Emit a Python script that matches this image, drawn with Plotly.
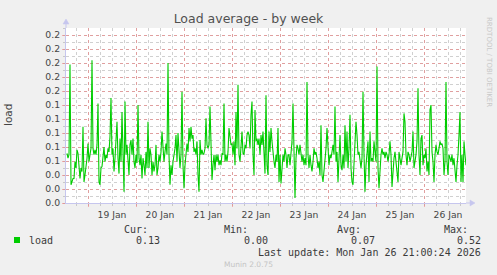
import pandas as pd
import plotly.graph_objects as go

# ---- data (30-minute averages, 18 Jan 13:30 -> 26 Jan 21:00) ----
load_part1 = [
    0.071, 0.064, 0.069, 0.198, 0.026, 0.030, 0.035, 0.035, 0.059, 0.050, 0.076,
    0.071, 0.045, 0.035, 0.050, 0.045, 0.109, 0.030, 0.040, 0.050, 0.064, 0.085,
    0.059, 0.069, 0.078, 0.204, 0.078, 0.069, 0.076, 0.069, 0.083, 0.142,
    0.030, 0.026, 0.050, 0.052, 0.069, 0.080, 0.059, 0.069, 0.064, 0.078,
    0.073, 0.095, 0.150, 0.069, 0.078, 0.045, 0.064, 0.102, 0.116, 0.064, 0.042,
    0.092, 0.059, 0.130, 0.059, 0.016, 0.145, 0.069, 0.083, 0.059, 0.040,
    0.083, 0.090, 0.069, 0.092, 0.059, 0.050, 0.069, 0.057, 0.140, 0.064,
    0.054, 0.069, 0.035, 0.064, 0.054, 0.040, 0.073, 0.050, 0.116, 0.050,
    0.078, 0.069, 0.040, 0.059, 0.045, 0.054, 0.083, 0.040, 0.050, 0.069,
    0.059, 0.073, 0.102, 0.069, 0.059, 0.073, 0.085, 0.069, 0.200, 0.069,
    0.026, 0.054, 0.040, 0.059, 0.069, 0.078, 0.097, 0.059, 0.100, 0.069,
    0.050, 0.069, 0.159, 0.054, 0.021, 0.054, 0.073, 0.085, 0.073, 0.107,
    0.088, 0.109, 0.092, 0.097, 0.073, 0.078, 0.069, 0.088, 0.040, 0.016,
]
load_part2 = [
    0.090, 0.069, 0.076, 0.069, 0.071, 0.078, 0.121, 0.083, 0.078, 0.083,
    0.138, 0.073, 0.033, 0.054, 0.069, 0.047, 0.069, 0.059, 0.069, 0.054,
    0.061, 0.054, 0.071, 0.069, 0.142, 0.059, 0.069, 0.059, 0.073, 0.107,
    0.097, 0.083, 0.085, 0.069, 0.088, 0.054, 0.130, 0.078, 0.169, 0.069,
    0.059, 0.088, 0.102, 0.071, 0.069, 0.083, 0.078, 0.097, 0.102, 0.097,
    0.078, 0.126, 0.145, 0.069, 0.040, 0.133, 0.088, 0.092, 0.083, 0.092,
    0.069, 0.097, 0.083, 0.102, 0.078, 0.042, 0.154, 0.054, 0.040, 0.102,
    0.073, 0.107, 0.088, 0.069, 0.059, 0.050, 0.069, 0.059, 0.107, 0.030,
    0.069, 0.028, 0.054, 0.069, 0.059, 0.078, 0.069, 0.050, 0.069, 0.069,
    0.054, 0.069, 0.088, 0.142, 0.069, 0.007, 0.064, 0.083, 0.078, 0.069,
    0.083, 0.069, 0.059, 0.069, 0.054, 0.064, 0.054, 0.173, 0.069, 0.050,
    0.069, 0.054, 0.045, 0.059, 0.078, 0.069, 0.073, 0.064, 0.050, 0.059,
    0.040, 0.111, 0.040, 0.030, 0.045, 0.054, 0.078, 0.107, 0.073, 0.054,
    0.069, 0.064, 0.073, 0.083,
]
load_part3 = [
    0.069, 0.138, 0.059, 0.073, 0.030, 0.069, 0.097, 0.054, 0.047, 0.069,
    0.050, 0.111, 0.059, 0.102, 0.050, 0.078, 0.126, 0.050, 0.030, 0.026,
    0.059, 0.069, 0.116, 0.097, 0.069, 0.073, 0.064, 0.050, 0.064, 0.159,
    0.069, 0.016, 0.054, 0.073, 0.088, 0.030, 0.102, 0.059, 0.064, 0.059,
    0.088, 0.073, 0.059, 0.195, 0.050, 0.021, 0.059, 0.069, 0.078, 0.069,
    0.073, 0.064, 0.073, 0.069, 0.059, 0.069, 0.088, 0.069, 0.023, 0.050,
    0.064, 0.073, 0.059, 0.050, 0.030, 0.073, 0.059, 0.054, 0.064, 0.073,
    0.128, 0.116, 0.069, 0.054, 0.073, 0.069, 0.059, 0.069, 0.073, 0.102,
    0.050, 0.059, 0.069, 0.088, 0.164, 0.069, 0.040, 0.092, 0.097, 0.054,
    0.069, 0.064, 0.078, 0.045, 0.059, 0.040, 0.133, 0.140, 0.073, 0.059,
    0.030, 0.069, 0.083, 0.073, 0.069, 0.078, 0.088, 0.083, 0.085, 0.078,
    0.040, 0.059, 0.173, 0.059, 0.040, 0.069, 0.064, 0.059, 0.069, 0.054,
    0.064, 0.040, 0.030, 0.054, 0.069, 0.097, 0.130, 0.030, 0.069, 0.030,
    0.088, 0.069, 0.054,
]
load_values = load_part1 + load_part2 + load_part3

range_start = "2026-01-18 13:00"
range_end = "2026-01-26 21:00"
step = "30min"

day_ticks = ["2026-01-19", "2026-01-20", "2026-01-21", "2026-01-22",
             "2026-01-23", "2026-01-24", "2026-01-25", "2026-01-26"]
day_labels = ["19 Jan", "20 Jan", "21 Jan", "22 Jan",
              "23 Jan", "24 Jan", "25 Jan", "26 Jan"]

y_ticks = [0.0, 0.02, 0.04, 0.06, 0.08, 0.10, 0.12, 0.14, 0.16, 0.18, 0.20, 0.22, 0.24]
y_labels = ["0.0", "0.0", "0.0", "0.1", "0.1", "0.1", "0.1", "0.1",
            "0.2", "0.2", "0.2", "0.2", "0.2"]

stat_names = ["Cur:", "Min:", "Avg:", "Max:"]
stat_values = ["0.13", "0.00", "0.07", "0.52"]
series_name = "load"
last_update = "Last update: Mon Jan 26 21:00:24 2026"

# ---- figure ----
times = pd.date_range(start=range_start, periods=len(load_values) + 1, freq=step)[1:]

W, H = 497, 275
L, R, T, B = 66, 31, 28, 72
PW, PH = W - L - R, H - T - B

def px(x):
    return (x - L) / PW

def py(y):
    return (H - B - y) / PH

GREEN = "#00CC00"
TXT = "#3a3a3a"
MONO = "DejaVu Sans Mono"
SANS = "DejaVu Sans"
MAJ = "rgba(240,110,110,0.5)"
MIN = "rgba(150,150,150,0.45)"
AX = "#C6C6EE"

fig = go.Figure()
fig.add_trace(go.Scatter(x=times, y=load_values, mode="lines",
                         line=dict(color=GREEN, width=1.1), hoverinfo="skip",
                         showlegend=False))

fig.update_layout(
    width=W, height=H,
    margin=dict(l=L, r=R, t=T, b=B, pad=0),
    paper_bgcolor="#F0F0F0", plot_bgcolor="#FFFFFF",
    title=dict(text="Load average - by week", x=0.5, xref="container",
               xanchor="center", y=1 - 19 / H, yref="container", yanchor="middle",
               font=dict(family=SANS, size=12.5, color="#505050")),
    xaxis=dict(
        type="date", range=[range_start, range_end],
        tickmode="array", tickvals=day_ticks, ticktext=day_labels,
        ticklabelshift=24, ticks="outside", ticklen=3, tickcolor=MAJ,
        tickfont=dict(family=SANS, size=9.2, color="#454545"),
        showgrid=True, gridcolor=MAJ, griddash="dot", gridwidth=1,
        minor=dict(dtick=6 * 3600 * 1000, tick0="2026-01-18", showgrid=True,
                   gridcolor=MIN, griddash="dot", gridwidth=1,
                   ticks="outside", ticklen=2, tickcolor=MIN),
        showline=True, linecolor=AX, linewidth=1, zeroline=False,
        fixedrange=True,
    ),
    yaxis=dict(
        range=[0, 0.25], tickmode="array", tickvals=y_ticks, ticktext=y_labels,
        ticks="outside", ticklen=3, tickcolor=MAJ,
        tickfont=dict(family=SANS, size=9.3, color="#454545"),
        showgrid=True, gridcolor=MAJ, griddash="dot", gridwidth=1,
        minor=dict(dtick=0.01, tick0=0, showgrid=True, gridcolor=MIN,
                   griddash="dot", gridwidth=1, ticks="outside", ticklen=2,
                   tickcolor=MIN),
        showline=True, linecolor=AX, linewidth=1, zeroline=False,
        fixedrange=True,
    ),
)

ann = []
# y-axis title
ann.append(dict(text="load", x=px(8), y=py(115), xref="paper", yref="paper",
                textangle=-90, showarrow=False, xanchor="center", yanchor="middle",
                font=dict(family=SANS, size=10.5, color="#454545")))
# RRDtool watermark
ann.append(dict(text="RRDTOOL / TOBI OETIKER", x=px(489), y=py(62), xref="paper",
                yref="paper", textangle=90, showarrow=False, xanchor="center",
                yanchor="middle", font=dict(family=SANS, size=7, color="#C8C8C8")))
# legend / stats
stat_right_hdr = [150, 250, 363, 470]
stat_right_val = [162, 270, 377, 483]
for name, xr in zip(stat_names, stat_right_hdr):
    ann.append(dict(text=name, x=px(xr), y=py(229), xref="paper", yref="paper",
                    showarrow=False, xanchor="right", yanchor="middle",
                    font=dict(family=MONO, size=10, color=TXT)))
for val, xr in zip(stat_values, stat_right_val):
    ann.append(dict(text=val, x=px(xr), y=py(240), xref="paper", yref="paper",
                    showarrow=False, xanchor="right", yanchor="middle",
                    font=dict(family=MONO, size=10, color=TXT)))
ann.append(dict(text=series_name, x=px(27), y=py(240), xref="paper", yref="paper",
                showarrow=False, xanchor="left", yanchor="middle",
                font=dict(family=MONO, size=10, color=TXT)))
ann.append(dict(text=last_update, x=px(483), y=py(252), xref="paper", yref="paper",
                showarrow=False, xanchor="right", yanchor="middle",
                font=dict(family=MONO, size=10, color=TXT)))
ann.append(dict(text="Munin 2.0.75", x=px(248), y=py(264), xref="paper", yref="paper",
                showarrow=False, xanchor="center", yanchor="middle",
                font=dict(family=SANS, size=7.5, color="#C4C4C4")))
fig.update_layout(annotations=ann)

shapes = []
# legend colour box
shapes.append(dict(type="rect", xref="paper", yref="paper",
                   x0=px(14), x1=px(20), y0=py(243), y1=py(237),
                   fillcolor=GREEN, line=dict(width=0)))
# axis arrows
shapes.append(dict(type="line", xref="paper", yref="paper",
                   x0=1, x1=px(471), y0=0, y1=0, line=dict(color=AX, width=1)))
shapes.append(dict(type="path", xref="paper", yref="paper",
                   path=f"M {px(470)} {py(200)} L {px(475)} {py(203)} L {px(470)} {py(206)} Z",
                   fillcolor=AX, line=dict(color=AX, width=0.5)))
shapes.append(dict(type="line", xref="paper", yref="paper",
                   x0=0, x1=0, y0=1, y1=py(23), line=dict(color=AX, width=1)))
shapes.append(dict(type="path", xref="paper", yref="paper",
                   path=f"M {px(63)} {py(24)} L {px(66)} {py(19)} L {px(69)} {py(24)} Z",
                   fillcolor=AX, line=dict(color=AX, width=0.5)))
fig.update_layout(shapes=shapes)

fig.write_html("out.html")
